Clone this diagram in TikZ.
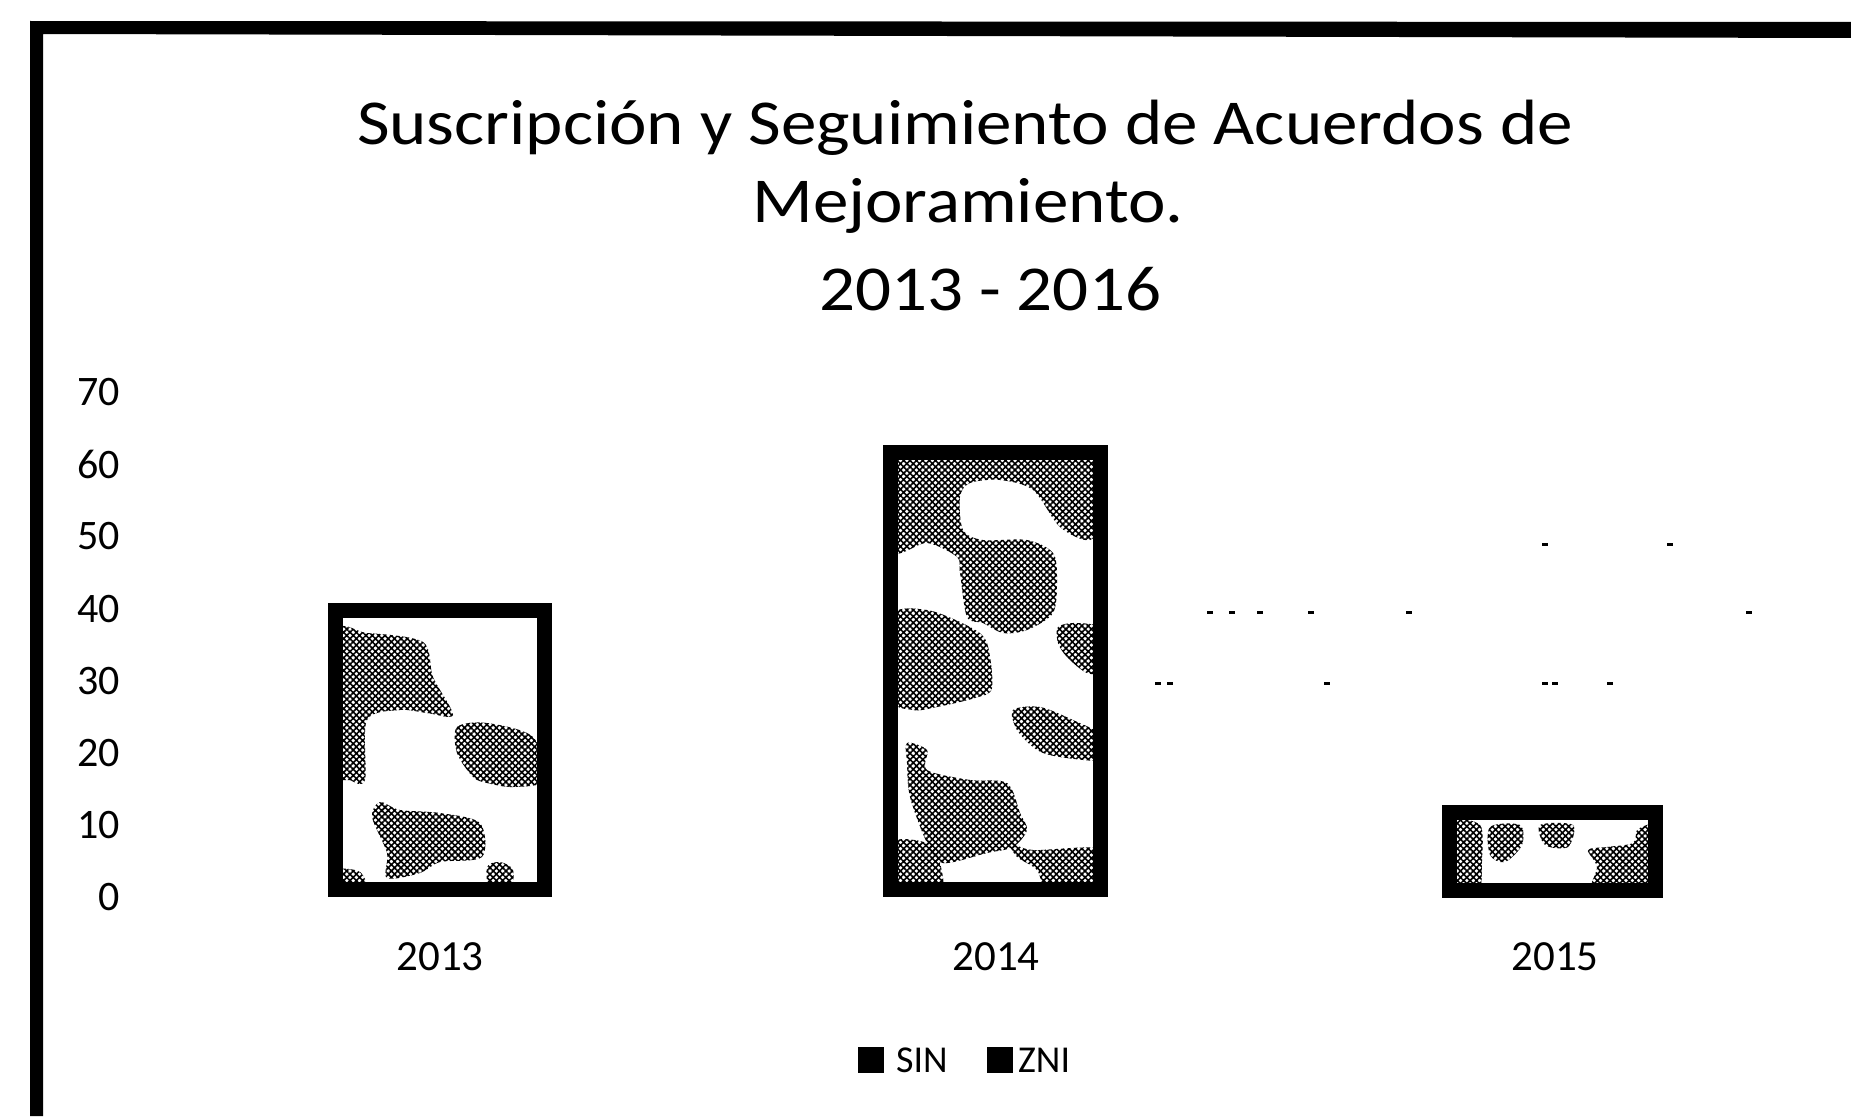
\documentclass[tikz,border=0pt]{standalone}
\usepackage{fontspec}
\setmainfont{Carlito}
\usetikzlibrary{patterns.meta}
\begin{document}
\begin{tikzpicture}[x=1pt,y=-1pt,
  barframe/.style={line width=15pt, black, line join=miter},
  meshfill/.style={pattern={Hatch[angle=45,distance=4.5pt,line width=1.6pt]}},
  ylab/.style={anchor=east, inner sep=0pt, font=\fontsize{42}{50}\selectfont},
  xlab/.style={anchor=center, inner sep=0pt, font=\fontsize{43}{50}\selectfont},
  ttl/.style={anchor=base, inner sep=0pt, font=\fontsize{64}{76}\selectfont},
  leg/.style={anchor=west, inner sep=0pt, font=\fontsize{38}{44}\selectfont},
  legmark/.style={fill=black, minimum size=26pt, inner sep=0pt},
  griddot/.style={fill=black}
]
\useasboundingbox (0,0) rectangle (1851,1116);
\fill[white] (0,0) rectangle (1851,1116);

% chart frame (left and top only)
\fill[black] (30,1116) -- (30,21) -- (1851,22) -- (1851,38) -- (43,34) -- (43,1116) -- cycle;

% title
\node[ttl] (t1) at (965,144) {\scalebox{1.11}[1]{Suscripción y Seguimiento de Acuerdos de}};
\node[ttl] (t2) at (968,222) {\scalebox{1.11}[1]{Mejoramiento.}};
\node[ttl] (t3) at (990,310) {\scalebox{1.11}[1]{2013 - 2016}};

% y axis labels
\foreach \v [count=\k from 0] in {0,10,...,70}
  \node[ylab] (y\v) at (120,{897-72.1*\k}) {\v};

% faint gridline remnants
\foreach \gx/\gy in {1545/544,1670/544,
    1210/612,1232/612,1260/612,1311/612,1409/612,1749/612,
    1158/683,1170/683,1327/683,1545/683,1555/683,1610/683}
  \fill[griddot] (\gx-3,\gy-1.5) rectangle (\gx+3,\gy+1.5);

% bar 2013
\begin{scope}
  \clip (335.5,610.5) rectangle (544.5,889.5);
  \fill[meshfill] plot[smooth cycle] coordinates {(335,635) (367,633) (423,642) (433,677) (453,715) (427,713) (400,710) (367,720) (365,780) (350,780) (335,767)};
  \fill[meshfill] plot[smooth cycle] coordinates {(457,727) (487,723) (533,737) (545,780) (513,787) (487,783) (473,777) (457,753)};
  \fill[meshfill] plot[smooth cycle] coordinates {(380,802) (400,810) (440,813) (480,823) (482,857) (440,862) (420,873) (387,878) (387,853) (372,817)};
  \fill[meshfill] plot[smooth cycle] coordinates {(487,867) (500,862) (513,870) (510,892) (490,892)};
  \fill[meshfill] plot[smooth cycle] coordinates {(336,870) (360,872) (367,892) (336,892)};
\end{scope}
\draw[barframe] (335.5,610.5) rectangle (544.5,889.5);

% bar 2014
\begin{scope}
  \clip (890.5,452.5) rectangle (1100.5,889.5);
  \fill[meshfill] plot[smooth cycle] coordinates {(890,455) (1105,455) (1105,513) (1090,540) (1060,527) (1033,490) (1000,480) (970,483) (960,497) (963,530) (983,540) (1027,540) (1053,553) (1057,580) (1053,613) (1027,630) (1003,633) (983,623) (967,617) (960,573) (957,557) (927,543) (890,550)};
  \fill[meshfill] plot[smooth cycle] coordinates {(890,617) (927,610) (970,627) (987,643) (992,688) (975,698) (937,707) (913,710) (890,697)};
  \fill[meshfill] plot[smooth cycle] coordinates {(1058,627) (1077,623) (1105,630) (1105,670) (1087,673) (1067,657) (1058,643)};
  \fill[meshfill] plot[smooth cycle] coordinates {(1013,710) (1040,707) (1073,720) (1105,737) (1105,760) (1060,757) (1037,750) (1017,730)};
  \fill[meshfill] plot[smooth cycle] coordinates {(907,743) (927,750) (927,770) (970,780) (1007,783) (1020,813) (1027,830) (1013,847) (987,853) (943,863) (927,843) (910,797) (907,763)};
  \fill[meshfill] plot[smooth cycle] coordinates {(890,843) (927,843) (940,863) (940,895) (890,895)};
  \fill[meshfill] plot[smooth cycle] coordinates {(1010,843) (1033,850) (1105,850) (1105,895) (1050,895) (1037,870) (1017,857)};
\end{scope}
\draw[barframe] (890.5,452.5) rectangle (1100.5,889.5);

% bar 2015
\begin{scope}
  \clip (1449.5,812.5) rectangle (1655.5,890.5);
  \fill[meshfill] plot[smooth cycle] coordinates {(1450,825) (1480,825) (1482,860) (1478,895) (1450,895)};
  \fill[meshfill] plot[smooth cycle] coordinates {(1490,827) (1520,825) (1522,845) (1505,862) (1490,855)};
  \fill[meshfill] plot[smooth cycle] coordinates {(1540,825) (1573,825) (1568,847) (1545,845)};
  \fill[meshfill] plot[smooth cycle] coordinates {(1588,850) (1607,847) (1633,843) (1637,830) (1650,824) (1660,824) (1660,895) (1593,895) (1597,867)};
\end{scope}
\draw[barframe] (1449.5,812.5) rectangle (1655.5,890.5);

% category labels
\node[xlab] (c2013) at (440,957) {2013};
\node[xlab] (c2014) at (996,957) {2014};
\node[xlab] (c2015) at (1555,957) {2015};

% legend
\node[legmark] (m1) at (871,1060) {};
\node[leg] (l1) at (896,1060) {SIN};
\node[legmark] (m2) at (1000,1060) {};
\node[leg] (l2) at (1018,1060) {ZNI};
\end{tikzpicture}
\end{document}
